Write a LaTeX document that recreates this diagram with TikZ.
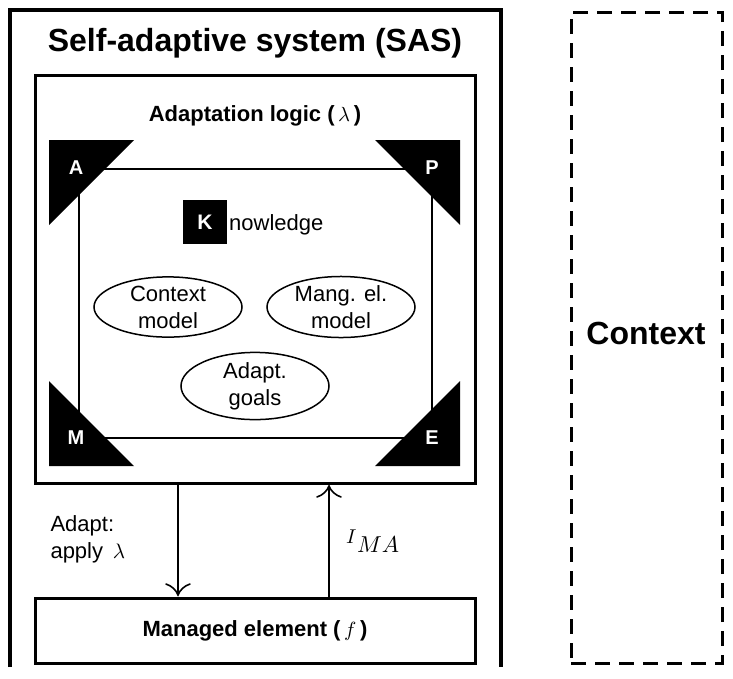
\RequirePackage{fix-cm}
\documentclass[tikz,border=0pt]{standalone}
\usepackage{fontspec}
\usepackage{graphicx}
\setmainfont{Liberation Sans}
\usetikzlibrary{calc,shapes.geometric}
\newcommand{\scmath}[2]{\scalebox{#1}{\normalsize$#2$}}
\tikzset{
  norm/.style={font=\fontsize{22}{27}\selectfont},
  boldlab/.style={font=\fontsize{22}{26}\selectfont\bfseries},
  corner/.style={text=white,font=\fontsize{20}{22}\selectfont\bfseries},
  ell/.style={ellipse,draw,line width=1.5pt,minimum width=148pt,minimum height=57pt,inner sep=0pt,align=center,norm},
  flow/.style={line width=1.6pt},
  barb/.style={line width=1.6pt,line cap=round},
}
\begin{document}
\begin{tikzpicture}[x=1pt,y=-1pt]
\useasboundingbox (0,0) rectangle (733,678);
% outer SAS box (open at bottom)
\draw[line width=3.5pt] (10,667) -- (10,10) -- (501,10) -- (501,667);
\node[font=\fontsize{32}{36}\selectfont\bfseries] (title) at (255,43) {Self-adaptive system (SAS)};
% adaptation logic box
\node[draw,line width=3pt,minimum width=440pt,minimum height=408pt,inner sep=0pt] (adapt) at (255,279) {};
\node[boldlab] (adlab) at (255,116) {Adaptation logic (\,\scmath{2.05}{\lambda}\,)};
% inner loop rectangle
\node[draw,line width=2pt,minimum width=353pt,minimum height=269pt,inner sep=0pt] (loop) at (255.5,303) {};
% corner triangles
\fill (49,140) -- (134,140) -- (49,225) -- cycle;
\fill (460,140) -- (375,140) -- (460,225) -- cycle;
\fill (49,466) -- (134,466) -- (49,381) -- cycle;
\fill (460,466) -- (375,466) -- (460,381) -- cycle;
\node[corner] (A) at (76,168) {A};
\node[corner] (P) at (432,168) {P};
\node[corner] (M) at (76,438) {M};
\node[corner] (E) at (432,438) {E};
% knowledge
\node[fill=black,minimum size=44pt,inner sep=0pt,text=white,font=\fontsize{21}{24}\selectfont\bfseries] (K) at (205,222) {K};
\node[norm,anchor=base west,inner sep=1pt] (know) at (228,230) {nowledge};
% models
\node[ell] (ctxm) at (168,307) {Context\\model};
\node[ell] (mangm) at (341,307) {Mang. el.\\model};
\node[ell,minimum height=60pt] (goals) at (255,386) {Adapt.\\goals};
% managed element
\node[draw,line width=3pt,minimum width=440pt,minimum height=65pt,inner sep=0pt,boldlab] (managed) at (255,630.5) {Managed element (\,\scmath{2.05}{f}\,)};
% arrows
\coordinate (xa) at (178,0);
\coordinate (xb) at (329,0);
\coordinate (ta) at ($(xa |- managed.north)+(0,-1.5)$);
\coordinate (tb) at ($(xb |- adapt.south)+(0,1.5)$);
\draw[flow] (xa |- adapt.south) -- (ta);
\draw[flow] (xb |- managed.north) -- (tb);
\draw[barb] ($(ta)+(-12,-11)$) .. controls ($(ta)+(-6,-9)$) and ($(ta)+(-2,-5)$) .. (ta)
            .. controls ($(ta)+(2,-5)$) and ($(ta)+(6,-9)$) .. ($(ta)+(12,-11)$);
\draw[barb] ($(tb)+(-12,11)$) .. controls ($(tb)+(-6,9)$) and ($(tb)+(-2,5)$) .. (tb)
            .. controls ($(tb)+(2,5)$) and ($(tb)+(6,9)$) .. ($(tb)+(12,11)$);
\node[norm,align=left,anchor=west] (adlbl) at (47,539) {Adapt:\\apply \,\scmath{2.1}{\lambda}};
\node[anchor=base west,inner sep=0pt] (ima) at (346,543) {\scmath{2.0}{I}\kern0.5pt\raisebox{-9pt}{\scmath{2.3}{MA}}};
% context
\node[draw,dashed,dash pattern=on 15pt off 9pt,line width=3pt,minimum width=151pt,minimum height=651pt,inner sep=0pt] (ctx) at (646.5,337.5) {};
\node[font=\fontsize{32}{36}\selectfont\bfseries] (ctxlab) at (646,333) {Context};
\end{tikzpicture}
\end{document}
